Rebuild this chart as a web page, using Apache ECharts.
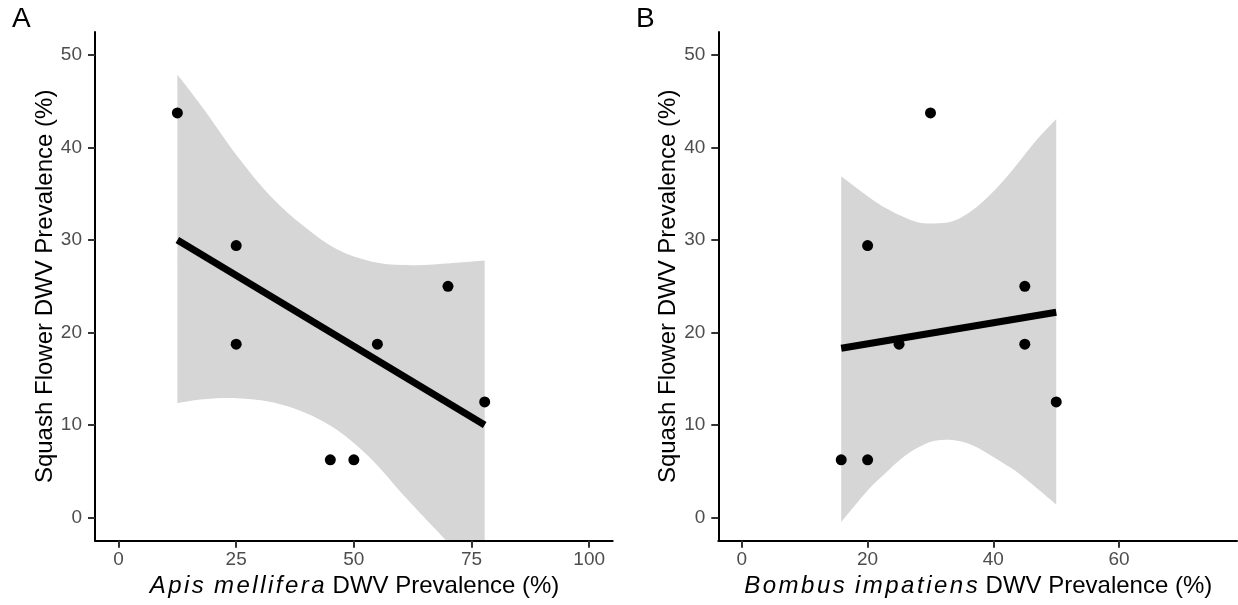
<!DOCTYPE html>
<html>
<head>
<meta charset="utf-8">
<script src="https://cdn.jsdelivr.net/npm/echarts@6/dist/echarts.min.js"></script>
<style>
  html, body { margin: 0; padding: 0; background: #fff; }
  #chart { width: 1238px; height: 605px; }
</style>
</head>
<body>
<div id="chart"></div>
<script>
const FONT = '"Liberation Sans", Arial, sans-serif';

// ---- Panel A: Apis mellifera ----
const apisX = [12.5, 25, 25, 45, 50, 55, 70, 77.8];
const apisY = [43.75, 29.41, 18.75, 6.25, 6.25, 18.75, 25, 12.5];
const apisFitX = [12.5, 77.8];
const apisFitY = [30.0, 10.0];
const apisBandX = [12.5, 18.2, 25.2, 32.4, 39.4, 46.4, 53.6, 60.6, 67.6, 77.8];
const apisBandUpper = [47.9, 44.1, 39.1, 34.7, 31.5, 29.0, 27.7, 27.3, 27.4, 27.8];
const apisBandLower = [12.4, 12.8, 12.9, 12.5, 11.4, 9.5, 6.4, 2.4, -1.4, -7.0];
const apisPText = 'p = 0.007';
const apisPPos = [50, 25];
const apisXTicks = [0, 25, 50, 75, 100];

// ---- Panel B: Bombus impatiens ----
const bombusX = [15.8, 20, 20, 25, 30, 45, 45, 50];
const bombusY = [6.25, 6.25, 29.41, 18.75, 43.75, 25, 18.75, 12.5];
const bombusFitX = [15.8, 50];
const bombusFitY = [18.3, 22.2];
const bombusBandX = [15.8, 20.1, 22.8, 25.4, 28.1, 30.7, 33.4, 36.0, 38.7, 41.3, 44.0, 46.7, 50];
const bombusBandUpper = [36.9, 34.7, 33.5, 32.6, 31.9, 31.8, 32.0, 32.9, 34.4, 36.2, 38.4, 40.7, 43.1];
const bombusBandLower = [-0.5, 3.0, 4.8, 6.4, 7.6, 8.3, 8.4, 8.0, 7.1, 6.0, 4.8, 3.3, 1.4];
const bombusPText = 'p = 0.06';
const bombusPPos = [25, 25];
const bombusXTicks = [0, 20, 40, 60];

// Shared y axis
const yTicks = [0, 10, 20, 30, 40, 50];
const yTitle = 'Squash Flower DWV Prevalence (%)';
const xTitleRest = ' DWV Prevalence (%)';

const zip = (a, b) => a.map((v, i) => [v, b[i]]);

// Species names are set in slightly spaced italics
function speciesTitle(species) {
  return species.split('').map(ch => ch === ' ' ? '{sp| }' : '{i|' + ch + '}').join('') + xTitleRest;
}

const richTitle = {
  i: { fontStyle: 'italic', fontSize: 24, fontFamily: FONT, color: '#000', padding: [0, 1.25, 0, 1.25] },
  sp: { fontSize: 24, fontFamily: FONT, color: '#000', padding: [0, 0.5, 0, 0.5] }
};

function xAxis(gridIndex, min, max, ticks, species) {
  return {
    gridIndex, type: 'value', min, max, z: 5,
    splitLine: { show: false },
    axisLine: { show: true, onZero: false, lineStyle: { color: '#000', width: 2 } },
    axisTick: { show: true, customValues: ticks, length: 7, lineStyle: { color: '#333', width: 2 } },
    axisLabel: { customValues: ticks, fontSize: 19, color: '#4d4d4d', fontFamily: FONT, margin: 10 },
    name: speciesTitle(species), nameLocation: 'middle', nameGap: 31,
    nameTextStyle: { fontSize: 24, color: '#000', fontFamily: FONT, rich: richTitle }
  };
}

function yAxis(gridIndex) {
  return {
    gridIndex, type: 'value', min: -2.5, max: 52.5, z: 5,
    splitLine: { show: false },
    axisLine: { show: true, onZero: false, lineStyle: { color: '#000', width: 2 } },
    axisTick: { show: true, customValues: yTicks, length: 7, lineStyle: { color: '#333', width: 2 } },
    axisLabel: { customValues: yTicks, fontSize: 19, color: '#4d4d4d', fontFamily: FONT, margin: 13 },
    name: yTitle, nameLocation: 'middle', nameGap: 38,
    nameTextStyle: { fontSize: 24, color: '#000', fontFamily: FONT }
  };
}

// Smooth (Catmull-Rom) path segments through pixel points, as SVG path commands
function curveCommands(pts) {
  let d = '';
  for (let i = 0; i < pts.length - 1; i++) {
    const p0 = pts[Math.max(i - 1, 0)], p1 = pts[i], p2 = pts[i + 1], p3 = pts[Math.min(i + 2, pts.length - 1)];
    const c1 = [p1[0] + (p2[0] - p0[0]) / 6, p1[1] + (p2[1] - p0[1]) / 6];
    const c2 = [p2[0] - (p3[0] - p1[0]) / 6, p2[1] - (p3[1] - p1[1]) / 6];
    d += ' C' + c1[0] + ',' + c1[1] + ' ' + c2[0] + ',' + c2[1] + ' ' + p2[0] + ',' + p2[1];
  }
  return d;
}

// Confidence band drawn as one closed shape: upper bound left to right, lower bound back
function bandSeries(idx, bandX, upper, lower) {
  const rows = bandX.map((x, i) => [x, upper[i], lower[i]]);
  return {
    type: 'custom', xAxisIndex: idx, yAxisIndex: idx, data: rows,
    encode: { x: 0, y: [1, 2] }, clip: true, silent: true, z: 1,
    renderItem(params, api) {
      if (params.dataIndex !== 0) return null;
      const up = rows.map(r => api.coord([r[0], r[1]]));
      const lo = rows.map(r => api.coord([r[0], r[2]])).reverse();
      const d = 'M' + up[0][0] + ',' + up[0][1] + curveCommands(up)
        + ' L' + lo[0][0] + ',' + lo[0][1] + curveCommands(lo) + ' Z';
      return {
        type: 'path',
        shape: { pathData: d },
        style: { fill: '#d6d6d6', stroke: null }
      };
    }
  };
}

function panelSeries(idx, bandX, upper, lower, px, py, fitX, fitY, pText, pPos) {
  return [
    bandSeries(idx, bandX, upper, lower),
    {
      type: 'scatter', xAxisIndex: idx, yAxisIndex: idx, data: zip(px, py),
      symbol: 'circle', symbolSize: 11, itemStyle: { color: '#000', opacity: 1 }, silent: true, z: 6
    },
    {
      type: 'line', xAxisIndex: idx, yAxisIndex: idx, data: zip(fitX, fitY),
      symbol: 'none', silent: true, lineStyle: { color: '#000', width: 7, cap: 'butt' }, z: 7
    },
    {
      type: 'scatter', xAxisIndex: idx, yAxisIndex: idx, data: [pPos],
      symbolSize: 1, itemStyle: { opacity: 0 }, silent: true, z: 8,
      label: {
        show: true, position: 'inside', formatter: pText,
        fontSize: 24, color: '#000', fontFamily: FONT
      }
    }
  ];
}

const chart = echarts.init(document.getElementById('chart'), null, { renderer: 'canvas' });
chart.setOption({
  animation: false,
  backgroundColor: '#fff',
  grid: [
    { left: 95, right: 625.3, top: 32, bottom: 64.3 },
    { left: 718.3, right: 1, top: 32, bottom: 64.3 }
  ],
  xAxis: [
    xAxis(0, -5, 105, apisXTicks, 'Apis mellifera'),
    xAxis(1, -3.75, 78.75, bombusXTicks, 'Bombus impatiens')
  ],
  yAxis: [yAxis(0), yAxis(1)],
  graphic: [
    { type: 'text', left: 12, top: 5, style: { text: 'A', font: '28px "Liberation Sans", Arial, sans-serif', fill: '#000' } },
    { type: 'text', left: 636, top: 5, style: { text: 'B', font: '28px "Liberation Sans", Arial, sans-serif', fill: '#000' } }
  ],
  series: [
    ...panelSeries(0, apisBandX, apisBandUpper, apisBandLower, apisX, apisY, apisFitX, apisFitY, apisPText, apisPPos),
    ...panelSeries(1, bombusBandX, bombusBandUpper, bombusBandLower, bombusX, bombusY, bombusFitX, bombusFitY, bombusPText, bombusPPos)
  ]
});
</script>
</body>
</html>
